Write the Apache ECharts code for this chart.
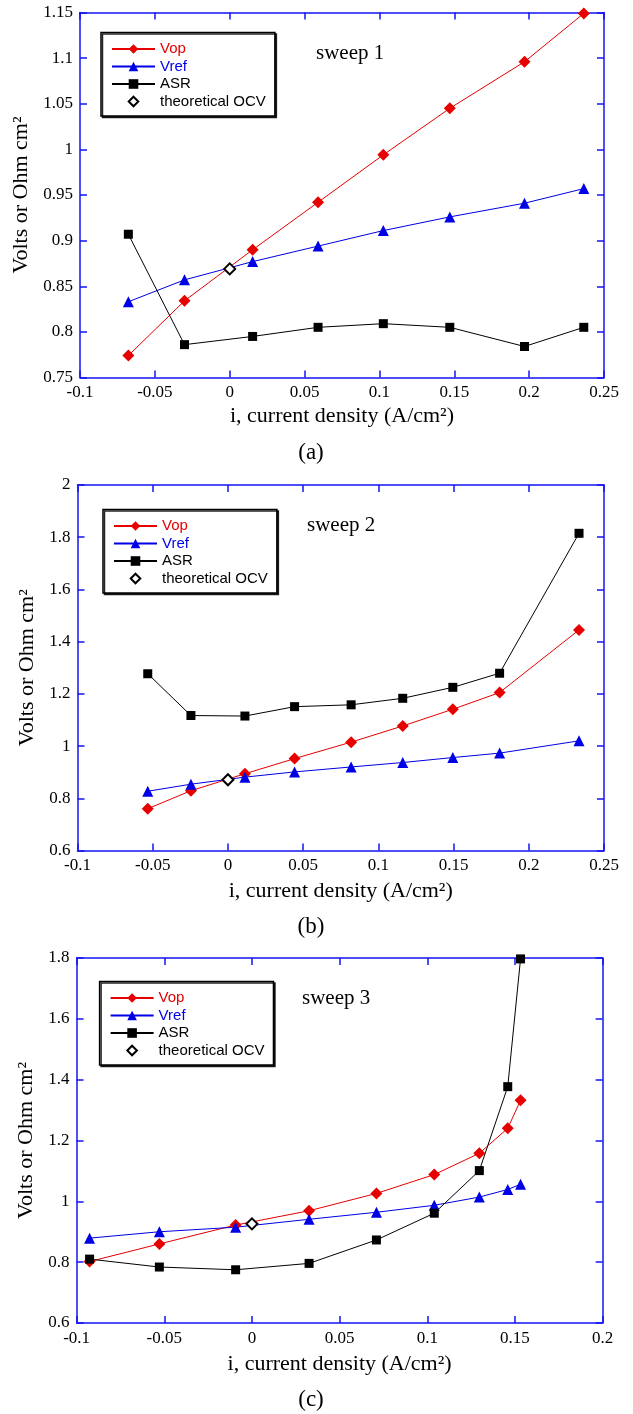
<!DOCTYPE html>
<html>
<head>
<meta charset="utf-8">
<script src="https://cdn.jsdelivr.net/npm/echarts@6/dist/echarts.min.js"></script>
<style>
html,body{margin:0;padding:0;background:#fff;}
#chart{width:633px;height:1414px;}
</style>
</head>
<body>
<div id="chart"></div>
<script>
// ---------- DATA ----------
// sweep 1 (panel a)
const xSweep1    = [-0.0677, -0.0302, 0.0153, 0.059, 0.1026, 0.147, 0.1969, 0.2365];
const vopSweep1  = [0.774, 0.834, 0.890, 0.942, 0.994, 1.045, 1.096, 1.149];
const vrefSweep1 = [0.833, 0.857, 0.877, 0.894, 0.911, 0.926, 0.941, 0.957];
const asrSweep1  = [0.907, 0.786, 0.795, 0.805, 0.809, 0.805, 0.784, 0.805];
const ocvSweep1  = [[0, 0.869]];

// sweep 2 (panel b)
const xSweep2    = [-0.0533, -0.0246, 0.0113, 0.0443, 0.0819, 0.1162, 0.1495, 0.1806, 0.2334];
const vopSweep2  = [0.760, 0.829, 0.894, 0.952, 1.015, 1.077, 1.141, 1.205, 1.445];
const vrefSweep2 = [0.827, 0.854, 0.881, 0.901, 0.920, 0.937, 0.956, 0.973, 1.020];
const asrSweep2  = [1.277, 1.117, 1.115, 1.151, 1.158, 1.183, 1.225, 1.279, 1.815];
const ocvSweep2  = [[0, 0.871]];

// sweep 3 (panel c)
const xSweep3    = [-0.0926, -0.0528, -0.0093, 0.0326, 0.0710, 0.104, 0.1297, 0.1459, 0.1532];
const vopSweep3  = [0.802, 0.860, 0.922, 0.969, 1.026, 1.088, 1.158, 1.240, 1.332];
const vrefSweep3 = [0.879, 0.900, 0.915, 0.941, 0.964, 0.987, 1.014, 1.039, 1.056];
const asrSweep3  = [0.810, 0.784, 0.775, 0.796, 0.873, 0.961, 1.101, 1.377, 1.797];
const ocvSweep3  = [[0, 0.926]];

// axis ranges / ticks
const xRanges = [[-0.1, 0.25, 0.05], [-0.1, 0.25, 0.05], [-0.1, 0.2, 0.05]];
const yRanges = [[0.75, 1.15, 0.05], [0.6, 2, 0.2], [0.6, 1.8, 0.2]];

// texts
const seriesNames = ['Vop', 'Vref', 'ASR', 'theoretical OCV'];
const sweepLabels = ['sweep 1', 'sweep 2', 'sweep 3'];
const captions = ['(a)', '(b)', '(c)'];
const xTitle = 'i, current density (A/cm²)';
const yTitle = 'Volts or Ohm cm²';

// ---------- BUILD ----------
function pairs(xs, ys) { return xs.map((x, i) => [x, ys[i]]); }

const panels = [
  { x: xSweep1, vop: vopSweep1, vref: vrefSweep1, asr: asrSweep1, ocv: ocvSweep1 },
  { x: xSweep2, vop: vopSweep2, vref: vrefSweep2, asr: asrSweep2, ocv: ocvSweep2 },
  { x: xSweep3, vop: vopSweep3, vref: vrefSweep3, asr: asrSweep3, ocv: ocvSweep3 }
];

// layout (pixels)
const layout = [
  { left: 80,   top: 12.5, width: 524,   height: 365,   xGap: 28, yGap: 41, legL: 101, legT: 32.5, sweepL: 316, sweepT: 43,  capY: 453 },
  { left: 77.5, top: 485,  width: 526.5, height: 365.5, xGap: 29.5, yGap: 39.5, legL: 103, legT: 509.5, sweepL: 307, sweepT: 515, capY: 927 },
  { left: 76.6, top: 958,  width: 526,   height: 365,   xGap: 30.5, yGap: 38.5, legL: 99.6, legT: 981.5, sweepL: 302, sweepT: 988, capY: 1400 }
];

const FRAME = '#1515f5';
const RED = '#e60000';
const BLUE = '#0000e6';
const SERIF = '"Liberation Serif", "Times New Roman", serif';
const SANS = '"Liberation Sans", Arial, sans-serif';

const grid = [], xAxis = [], yAxis = [], series = [], legend = [], graphic = [];

panels.forEach((p, i) => {
  const L = layout[i];
  grid.push({ left: L.left, top: L.top, width: L.width, height: L.height, show: false, containLabel: false });

  const tick = { show: true, inside: true, length: 7, lineStyle: { color: FRAME, width: 1.5 } };
  const line = { show: true, onZero: false, lineStyle: { color: FRAME, width: 1.5 } };

  xAxis.push({
    type: 'value', gridIndex: i, position: 'bottom',
    min: xRanges[i][0], max: xRanges[i][1], interval: xRanges[i][2],
    axisLine: line, axisTick: tick, splitLine: { show: false },
    axisLabel: { color: '#000', fontFamily: SERIF, fontSize: 17, margin: 7 },
    name: xTitle, nameLocation: 'middle', nameGap: L.xGap,
    nameTextStyle: { color: '#000', fontFamily: SERIF, fontSize: 22 }
  });
  xAxis.push({
    type: 'value', gridIndex: i, position: 'top',
    min: xRanges[i][0], max: xRanges[i][1], interval: xRanges[i][2],
    axisLine: line, axisTick: tick, splitLine: { show: false },
    axisLabel: { show: false }
  });
  yAxis.push({
    type: 'value', gridIndex: i, position: 'left',
    min: yRanges[i][0], max: yRanges[i][1], interval: yRanges[i][2],
    axisLine: line, axisTick: tick, splitLine: { show: false },
    axisLabel: { color: '#000', fontFamily: SERIF, fontSize: 17, margin: 7 },
    name: yTitle, nameLocation: 'middle', nameGap: L.yGap, nameRotate: 90,
    nameTextStyle: { color: '#000', fontFamily: SERIF, fontSize: 22 }
  });
  yAxis.push({
    type: 'value', gridIndex: i, position: 'right',
    min: yRanges[i][0], max: yRanges[i][1], interval: yRanges[i][2],
    axisLine: line, axisTick: tick, splitLine: { show: false },
    axisLabel: { show: false }
  });

  const xi = i * 2, yi = i * 2;
  series.push({
    name: seriesNames[0], type: 'line', xAxisIndex: xi, yAxisIndex: yi,
    data: pairs(p.x, p.vop), symbol: 'diamond', symbolSize: 12,
    itemStyle: { color: RED }, lineStyle: { color: RED, width: 1 }, z: 3
  });
  series.push({
    name: seriesNames[1], type: 'line', xAxisIndex: xi, yAxisIndex: yi,
    data: pairs(p.x, p.vref), symbol: 'triangle', symbolSize: 11,
    itemStyle: { color: BLUE }, lineStyle: { color: BLUE, width: 1 }, z: 3
  });
  series.push({
    name: seriesNames[2], type: 'line', xAxisIndex: xi, yAxisIndex: yi,
    data: pairs(p.x, p.asr), symbol: 'rect', symbolSize: 9,
    itemStyle: { color: '#000' }, lineStyle: { color: '#000', width: 1 }, z: 3
  });
  series.push({
    name: seriesNames[3], type: 'line', xAxisIndex: xi, yAxisIndex: yi,
    data: p.ocv, symbol: 'emptyDiamond', symbolSize: 11, showAllSymbol: true,
    itemStyle: { color: '#000', borderWidth: 1.5 },
    lineStyle: { color: 'rgba(0,0,0,0)', width: 0 }, z: 5
  });

  legend.push({
    orient: 'vertical', left: L.legL, top: L.legT,
    padding: [9, 9, 7, 10], itemWidth: 43, itemHeight: 12, itemGap: 2.5,
    selectedMode: false,
    backgroundColor: '#fff', borderColor: '#000', borderWidth: 1.5,
    shadowColor: 'rgba(0,0,0,0.85)', shadowBlur: 0, shadowOffsetX: 1.5, shadowOffsetY: 1.5,
    textStyle: { fontFamily: SANS, fontSize: 15, color: '#000' },
    data: [
      { name: seriesNames[0], textStyle: { color: RED } },
      { name: seriesNames[1], textStyle: { color: BLUE } },
      { name: seriesNames[2], textStyle: { color: '#000' } },
      { name: seriesNames[3], textStyle: { color: '#000' } }
    ]
  });

  graphic.push({
    type: 'text', left: L.sweepL, top: L.sweepT,
    style: { text: sweepLabels[i], font: '21px ' + SERIF, fill: '#000' }
  });
  graphic.push({
    type: 'text', x: 311, y: L.capY,
    style: { text: captions[i], font: '23px ' + SERIF, fill: '#000', align: 'center', verticalAlign: 'middle' }
  });
});

const chart = echarts.init(document.getElementById('chart'), null, { renderer: 'canvas' });
chart.setOption({
  animation: false,
  backgroundColor: '#fff',
  grid, xAxis, yAxis, series, legend, graphic
});
</script>
</body>
</html>
